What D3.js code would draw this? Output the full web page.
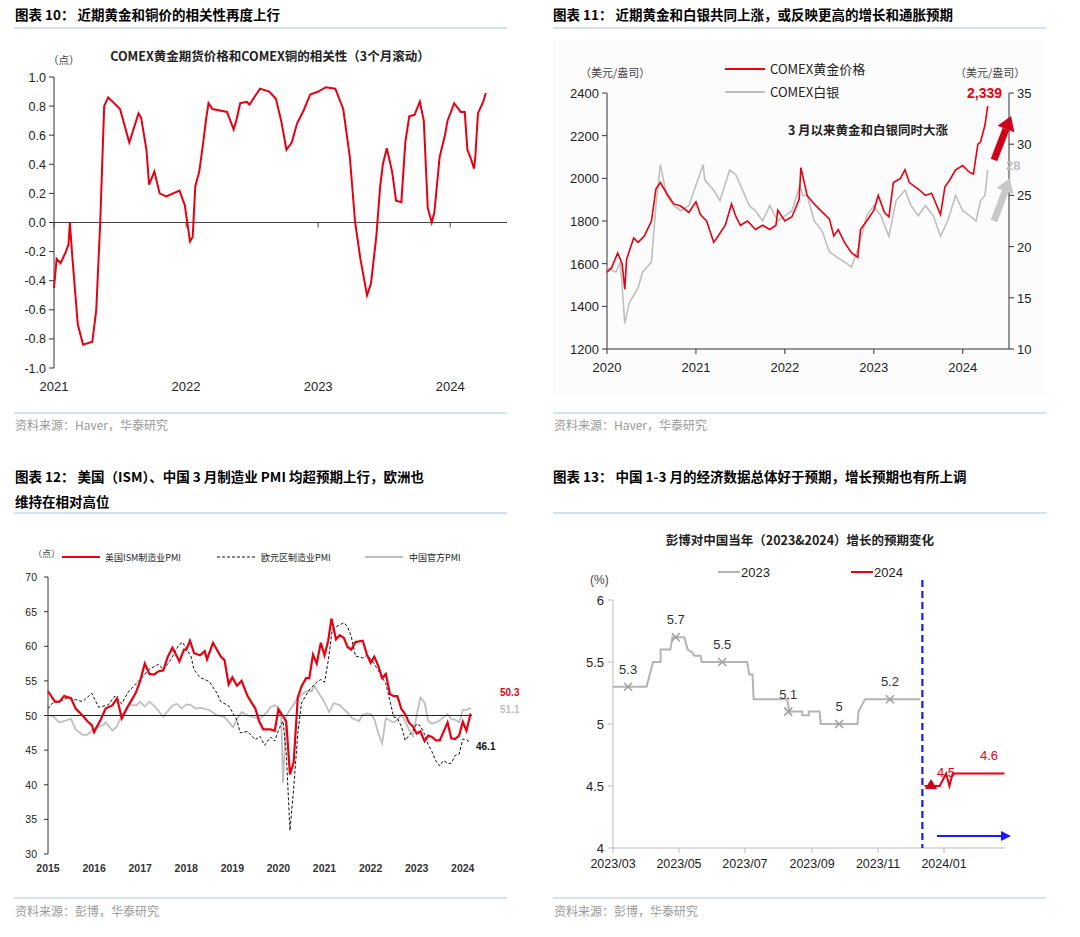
<!DOCTYPE html>
<html><head><meta charset="utf-8">
<script src="https://cdn.jsdelivr.net/npm/d3@7/dist/d3.min.js"></script>
<style>body{margin:0;background:#fff}svg{font-family:Arial,"Liberation Sans","Noto Sans CJK SC",sans-serif}</style>
</head><body><svg id="c" width="1080" height="937"></svg>
<script>
// ---------- DATA ----------
const corrSeries=[[2021.0,-0.45],[2021.02,-0.25],[2021.05,-0.28],[2021.09,-0.2],[2021.11,-0.15],[2021.12,0.0],[2021.14,-0.25],[2021.18,-0.7],[2021.22,-0.84],[2021.29,-0.82],[2021.32,-0.6],[2021.35,0.0],[2021.38,0.8],[2021.41,0.86],[2021.5,0.78],[2021.57,0.55],[2021.64,0.75],[2021.66,0.72],[2021.7,0.5],[2021.72,0.26],[2021.76,0.35],[2021.8,0.2],[2021.85,0.18],[2021.95,0.22],[2021.99,0.12],[2022.03,-0.13],[2022.05,-0.1],[2022.07,0.25],[2022.1,0.35],[2022.13,0.55],[2022.15,0.7],[2022.17,0.82],[2022.2,0.78],[2022.31,0.76],[2022.36,0.64],[2022.38,0.7],[2022.41,0.82],[2022.46,0.83],[2022.48,0.81],[2022.56,0.92],[2022.63,0.9],[2022.68,0.85],[2022.72,0.7],[2022.76,0.5],[2022.8,0.55],[2022.84,0.68],[2022.89,0.77],[2022.94,0.88],[2023.0,0.9],[2023.06,0.93],[2023.13,0.92],[2023.19,0.78],[2023.24,0.45],[2023.28,0.0],[2023.32,-0.25],[2023.37,-0.5],[2023.4,-0.42],[2023.44,-0.1],[2023.47,0.25],[2023.49,0.4],[2023.52,0.51],[2023.56,0.35],[2023.59,0.15],[2023.63,0.14],[2023.66,0.55],[2023.69,0.73],[2023.73,0.74],[2023.77,0.83],[2023.8,0.7],[2023.83,0.1],[2023.86,0.0],[2023.88,0.07],[2023.92,0.45],[2023.96,0.6],[2023.98,0.7],[2024.03,0.82],[2024.08,0.76],[2024.11,0.76],[2024.13,0.5],[2024.16,0.43],[2024.18,0.37],[2024.19,0.45],[2024.21,0.75],[2024.25,0.83],[2024.27,0.89]];
const corrTicksY=[1.0,0.8,0.6,0.4,0.2,0.0,-0.2,-0.4,-0.6,-0.8,-1.0];
const years1=[2021,2022,2023,2024];

const goldSeries=[[2020.0,1560],[2020.05,1580],[2020.12,1650],[2020.17,1600],[2020.2,1480],[2020.22,1620],[2020.3,1720],[2020.35,1700],[2020.42,1730],[2020.5,1800],[2020.55,1950],[2020.6,1980],[2020.67,1930],[2020.75,1880],[2020.83,1870],[2020.92,1840],[2021.0,1890],[2021.05,1830],[2021.12,1800],[2021.2,1700],[2021.25,1730],[2021.33,1780],[2021.4,1880],[2021.45,1820],[2021.5,1780],[2021.58,1800],[2021.67,1760],[2021.75,1780],[2021.83,1760],[2021.9,1780],[2021.92,1850],[2022.0,1800],[2022.08,1820],[2022.16,1900],[2022.18,2050],[2022.25,1920],[2022.33,1880],[2022.4,1850],[2022.5,1810],[2022.55,1730],[2022.6,1760],[2022.67,1700],[2022.75,1650],[2022.82,1630],[2022.85,1760],[2022.92,1800],[2023.0,1850],[2023.05,1920],[2023.12,1840],[2023.17,1820],[2023.22,1980],[2023.3,2000],[2023.35,2040],[2023.4,1980],[2023.5,1950],[2023.58,1920],[2023.65,1930],[2023.7,1880],[2023.75,1830],[2023.8,1960],[2023.85,1990],[2023.92,2040],[2024.0,2060],[2024.07,2030],[2024.12,2020],[2024.17,2160],[2024.2,2170],[2024.25,2250],[2024.28,2339]];
const silverSeries=[[2020.0,18],[2020.1,17.5],[2020.15,18.5],[2020.2,12.5],[2020.25,14.5],[2020.35,16],[2020.4,17.5],[2020.5,18.5],[2020.55,24],[2020.6,28],[2020.67,25],[2020.75,24],[2020.83,23.5],[2020.92,24],[2021.0,26],[2021.08,28],[2021.1,26.5],[2021.2,25.5],[2021.27,24.5],[2021.38,27.5],[2021.45,27],[2021.5,26],[2021.6,24],[2021.67,23.5],[2021.75,22.5],[2021.83,24],[2021.92,22.5],[2022.0,23],[2022.08,23.5],[2022.17,26],[2022.2,25],[2022.25,25],[2022.33,22.5],[2022.42,21.5],[2022.5,19.5],[2022.58,19],[2022.67,18.5],[2022.75,18],[2022.83,20],[2022.92,23],[2023.0,24],[2023.08,23],[2023.17,21],[2023.25,24.5],[2023.35,25.5],[2023.42,24],[2023.5,23],[2023.58,24],[2023.67,23],[2023.75,21],[2023.83,22.5],[2023.92,25],[2024.0,23.5],[2024.08,23],[2024.15,22.5],[2024.2,24.5],[2024.25,25],[2024.28,27.5]];
const goldTicks=[1200,1400,1600,1800,2000,2200,2400];
const silverTicks=[10,15,20,25,30,35];
const years2=[2020,2021,2022,2023,2024];

const ismSeries=[[2015.0,53.5],[2015.15,52],[2015.25,52],[2015.35,52.8],[2015.5,52.5],[2015.6,51],[2015.75,50],[2015.85,49.2],[2015.95,48.6],[2016.0,47.6],[2016.15,49.5],[2016.25,51],[2016.4,51.5],[2016.5,52.5],[2016.6,49.6],[2016.75,51.5],[2016.9,53.2],[2017.0,55],[2017.1,57.5],[2017.2,56],[2017.3,55.9],[2017.4,56.4],[2017.5,56.5],[2017.6,58.5],[2017.7,59.8],[2017.8,58.5],[2017.85,57.8],[2017.95,59.5],[2018.0,59.5],[2018.08,60.8],[2018.17,59],[2018.3,58.7],[2018.4,59.3],[2018.45,58.1],[2018.58,60.5],[2018.75,58.5],[2018.83,58],[2018.92,54.5],[2019.0,55.5],[2019.1,54.3],[2019.2,55],[2019.33,52.8],[2019.5,51],[2019.58,49.2],[2019.67,48],[2019.83,48],[2019.92,47.8],[2020.0,50.9],[2020.08,50.1],[2020.17,49.1],[2020.25,41.5],[2020.33,43.2],[2020.42,52.6],[2020.5,54.2],[2020.6,55.4],[2020.67,55.4],[2020.75,58.8],[2020.83,57.5],[2020.92,60.5],[2021.0,58.7],[2021.08,60.8],[2021.15,64],[2021.25,61],[2021.33,61.6],[2021.42,61.2],[2021.5,59.9],[2021.58,59.5],[2021.67,60.6],[2021.83,60.8],[2021.92,58.8],[2022.0,57.6],[2022.08,58.5],[2022.17,57.1],[2022.25,55.4],[2022.33,56],[2022.42,53.1],[2022.5,52.8],[2022.58,52.8],[2022.67,50.9],[2022.75,50.2],[2022.83,49],[2022.92,48.4],[2023.0,47.4],[2023.08,47.7],[2023.17,46.3],[2023.25,47.1],[2023.33,46.9],[2023.42,46.4],[2023.5,46.4],[2023.58,47.6],[2023.67,49],[2023.75,46.7],[2023.83,46.6],[2023.92,47.1],[2024.0,49.1],[2024.08,47.8],[2024.17,50.3]];
const euroSeries=[[2015.0,51],[2015.1,51.8],[2015.25,52],[2015.4,52.5],[2015.6,52.3],[2015.75,52],[2015.95,53.2],[2016.1,51.2],[2016.3,51.5],[2016.45,52.8],[2016.6,51.7],[2016.75,53.5],[2017.0,55.2],[2017.2,56.7],[2017.4,57.4],[2017.5,56.6],[2017.67,58.1],[2017.83,60.1],[2017.92,60.6],[2018.0,59.6],[2018.1,58.6],[2018.17,56.6],[2018.3,55.5],[2018.5,54.9],[2018.67,53.2],[2018.75,52],[2018.92,51.4],[2019.0,50.5],[2019.1,49.3],[2019.17,47.5],[2019.33,47.7],[2019.5,46.5],[2019.6,47],[2019.7,45.7],[2019.83,46.9],[2019.92,46.3],[2020.0,47.9],[2020.1,49.2],[2020.17,44.5],[2020.25,33.4],[2020.33,39.4],[2020.42,47.4],[2020.5,51.8],[2020.67,53.7],[2020.83,54.8],[2020.92,55.2],[2021.0,54.8],[2021.08,57.9],[2021.17,62.5],[2021.33,63.1],[2021.42,63.4],[2021.5,62.8],[2021.58,61.4],[2021.67,58.6],[2021.83,58.3],[2021.92,58.7],[2022.0,58.2],[2022.17,56.5],[2022.25,55.5],[2022.33,54.6],[2022.42,52.1],[2022.5,49.8],[2022.58,49.6],[2022.67,48.4],[2022.75,46.4],[2022.83,47.1],[2022.92,47.8],[2023.0,48.8],[2023.08,48.5],[2023.17,47.3],[2023.25,45.8],[2023.33,44.8],[2023.42,43.4],[2023.5,42.7],[2023.58,43.5],[2023.67,43.1],[2023.75,43.1],[2023.83,44.2],[2023.92,44.4],[2024.0,46.6],[2024.08,46.5],[2024.17,46.1]];
const chinaSeries=[[2015.0,50],[2015.1,49.9],[2015.25,49],[2015.35,49.2],[2015.5,49.5],[2015.6,48],[2015.75,47.2],[2015.85,47.2],[2016.0,48.1],[2016.1,48.4],[2016.2,48.6],[2016.25,49],[2016.33,48.4],[2016.4,47.8],[2016.5,48.5],[2016.6,50],[2016.75,51.5],[2016.92,51.5],[2017.0,52],[2017.1,51.3],[2017.2,52.0],[2017.33,51.2],[2017.5,49.8],[2017.58,50.5],[2017.7,51.4],[2017.8,51.7],[2017.9,51],[2018.0,51.6],[2018.1,51.5],[2018.2,51],[2018.33,51.1],[2018.5,50.8],[2018.67,50],[2018.83,49.8],[2019.02,48.3],[2019.1,49.5],[2019.2,50.5],[2019.33,50],[2019.5,49.7],[2019.6,49.5],[2019.75,50.5],[2019.83,51.2],[2019.92,51.5],[2020.0,51],[2020.06,49.5],[2020.1,40.3],[2020.17,50],[2020.25,50.8],[2020.42,52.5],[2020.5,53],[2020.6,53.5],[2020.72,53.5],[2020.78,54.3],[2020.85,53.5],[2021.0,51.9],[2021.1,50.5],[2021.2,51.8],[2021.33,51.5],[2021.42,50.9],[2021.5,50.4],[2021.6,49.6],[2021.75,49.2],[2021.83,50.1],[2021.92,50.3],[2022.0,50.2],[2022.08,49.5],[2022.17,47.4],[2022.25,46],[2022.33,49.6],[2022.5,49],[2022.58,49.4],[2022.67,50.1],[2022.75,49.2],[2022.83,48],[2022.92,47],[2023.0,50.1],[2023.08,52.6],[2023.17,51.9],[2023.25,49.2],[2023.33,48.8],[2023.42,49],[2023.5,49.3],[2023.58,49.7],[2023.67,50.2],[2023.75,49.5],[2023.83,49.4],[2023.92,49],[2024.0,50.8],[2024.08,50.8],[2024.17,51.1]];
const pmiTicks=[30,35,40,45,50,55,60,65,70];
const years3=[2015,2016,2017,2018,2019,2020,2021,2022,2023,2024];

const f2023Series=[["2023-03-01",5.3],["2023-04-01",5.3],["2023-04-04",5.4],["2023-04-07",5.5],["2023-04-14",5.5],["2023-04-14",5.6],["2023-04-23",5.6],["2023-04-25",5.7],["2023-05-06",5.7],["2023-05-09",5.6],["2023-05-13",5.58],["2023-05-15",5.55],["2023-05-21",5.55],["2023-05-22",5.5],["2023-07-03",5.5],["2023-07-05",5.4],["2023-07-08",5.4],["2023-07-09",5.2],["2023-08-09",5.2],["2023-08-11",5.1],["2023-08-23",5.1],["2023-08-23",5.07],["2023-08-29",5.07],["2023-08-29",5.1],["2023-09-08",5.1],["2023-09-09",5.0],["2023-10-13",5.0],["2023-10-14",5.1],["2023-10-17",5.15],["2023-10-20",5.2],["2023-12-10",5.2]];
const f2023Marks=[["2023-03-15",5.3,"5.3"],["2023-04-28",5.7,"5.7"],["2023-06-10",5.5,"5.5"],["2023-08-10",5.1,"5.1"],["2023-09-26",5.0,"5"],["2023-11-12",5.2,"5.2"]];
const f2024Series=[["2023-12-14",4.5],["2023-12-28",4.5],["2023-12-31",4.55],["2024-01-03",4.6],["2024-01-06",4.5],["2024-01-09",4.6],["2024-02-26",4.6]];
const gTicks=[4,4.5,5,5.5,6];
const monthTicks=["2023-03-01","2023-05-01","2023-07-01","2023-09-01","2023-11-01","2024-01-01"];

// ---------- DRAW ----------
const svg=d3.select("#c");
const RED="#e60012",GREY="#bfbfbf",HDR='"Noto Sans CJK SC",sans-serif';
function header(x,y,lines){lines.forEach((t,i)=>svg.append("text").attr("x",x).attr("y",y+i*25).attr("font-family",HDR).attr("font-weight","bold").attr("font-size",13.5).text(t));}
function rule(x1,x2,y){svg.append("line").attr("x1",x1).attr("x2",x2).attr("y1",y).attr("y2",y).attr("stroke","#a9c4de").attr("stroke-width",1.2);}
function source(x,y,t){svg.append("text").attr("x",x).attr("y",y).attr("font-family",HDR).attr("font-size",12).attr("fill","#9a9a9a").text(t);}
function txt(x,y,t,o={}){return svg.append("text").attr("x",x).attr("y",y).attr("font-size",o.size||12).attr("fill",o.fill||"#222").attr("font-weight",o.bold?"bold":"normal").attr("text-anchor",o.anchor||"start").attr("font-family",o.cjk?HDR:null).text(t);}

// Panel 1
header(15,20,["图表 10：  近期黄金和铜价的相关性再度上行"]);rule(14,507,28);rule(14,507,413);source(15,430,"资料来源：Haver，华泰研究");
{const x=d3.scaleLinear().domain([2021,2024.43]).range([54,507]);const y=d3.scaleLinear().domain([-1,1]).range([368,77]);
const g=svg.append("g");
g.append("line").attr("x1",54).attr("x2",54).attr("y1",77).attr("y2",368).attr("stroke","#333");
corrTicksY.forEach(v=>{g.append("line").attr("x1",49).attr("x2",54).attr("y1",y(v)).attr("y2",y(v)).attr("stroke","#333");txt(46,y(v)+4.5,v.toFixed(1),{anchor:"end",size:12.5});});
g.append("line").attr("x1",54).attr("x2",507).attr("y1",y(0)).attr("y2",y(0)).attr("stroke","#444").attr("stroke-width",1.2);
years1.forEach(t=>{g.append("line").attr("x1",x(t)).attr("x2",x(t)).attr("y1",y(0)).attr("y2",y(0)+5).attr("stroke","#444");txt(x(t),391,t,{anchor:"middle",size:13});});
g.append("path").datum(corrSeries).attr("fill","none").attr("stroke",RED).attr("stroke-width",2).attr("d",d3.line().x(d=>x(d[0])).y(d=>y(d[1])));
txt(270,61,"COMEX黄金期货价格和COMEX铜的相关性（3个月滚动）",{anchor:"middle",bold:true,size:12.5,cjk:true});
txt(48,64,"（点）",{size:10.5,cjk:true,fill:"#444"});}

// Panel 2
header(553,20,["图表 11：  近期黄金和白银共同上涨，或反映更高的增长和通胀预期"]);rule(553,1046,28);rule(553,1046,413);source(554,430,"资料来源：Haver，华泰研究");
{const x=d3.scaleLinear().domain([2020,2024.52]).range([607,1009]);const y=d3.scaleLinear().domain([1200,2400]).range([349,93]);const y2=d3.scaleLinear().domain([10,35]).range([349,93]);
const g=svg.append("g");
g.append("rect").attr("x",553).attr("y",40).attr("width",492).attr("height",355).attr("fill","#fcfcfc");
g.append("line").attr("x1",607).attr("x2",607).attr("y1",93).attr("y2",349).attr("stroke","#333");
g.append("line").attr("x1",1009).attr("x2",1009).attr("y1",93).attr("y2",349).attr("stroke","#333");
g.append("line").attr("x1",607).attr("x2",1009).attr("y1",349).attr("y2",349).attr("stroke","#333");
goldTicks.forEach(v=>{g.append("line").attr("x1",602).attr("x2",607).attr("y1",y(v)).attr("y2",y(v)).attr("stroke","#333");txt(599,y(v)+5,v,{anchor:"end",size:13});});
silverTicks.forEach(v=>{g.append("line").attr("x1",1009).attr("x2",1014).attr("y1",y2(v)).attr("y2",y2(v)).attr("stroke","#333");txt(1017,y2(v)+5,v,{size:13});});
years2.forEach(t=>{g.append("line").attr("x1",x(t)).attr("x2",x(t)).attr("y1",349).attr("y2",354).attr("stroke","#333");txt(x(t),372,t,{anchor:"middle",size:13});});
g.append("path").datum(silverSeries).attr("fill","none").attr("stroke",GREY).attr("stroke-width",1.6).attr("d",d3.line().x(d=>x(d[0])).y(d=>y2(d[1])));
g.append("path").datum(goldSeries).attr("fill","none").attr("stroke",RED).attr("stroke-width",1.6).attr("d",d3.line().x(d=>x(d[0])).y(d=>y(d[1])));
g.append("line").attr("x1",725).attr("x2",765).attr("y1",69).attr("y2",69).attr("stroke",RED).attr("stroke-width",2);
g.append("line").attr("x1",725).attr("x2",765).attr("y1",92).attr("y2",92).attr("stroke",GREY).attr("stroke-width",2);
txt(770,74,"COMEX黄金价格",{size:13,cjk:true});txt(770,97,"COMEX白银",{size:13,cjk:true});
txt(580,77,"（美元/盎司）",{size:11,cjk:true,fill:"#444"});txt(955,77,"（美元/盎司）",{size:11,cjk:true,fill:"#444"});
txt(1002,98,"2,339",{anchor:"end",bold:true,size:14,fill:RED});
txt(1006,170,"28",{size:13,bold:true,fill:GREY});
txt(868,135,"3 月以来黄金和白银同时大涨",{anchor:"middle",bold:true,size:12.5,cjk:true});
function arrow(x1,y1,x2,y2,c){const a=Math.atan2(y2-y1,x2-x1),L=14,W=9;const bx=x2-L*Math.cos(a),by=y2-L*Math.sin(a);
g.append("line").attr("x1",x1).attr("y1",y1).attr("x2",bx).attr("y2",by).attr("stroke",c).attr("stroke-width",7);
g.append("path").attr("fill",c).attr("d",`M${x2},${y2}L${bx+W*Math.sin(a)},${by-W*Math.cos(a)}L${bx-W*Math.sin(a)},${by+W*Math.cos(a)}Z`);}
arrow(994,160,1011,116,"#d0001a");arrow(994,221,1010,178,"#c8c8c8");}

// Panel 3
header(15,482,["图表 12：  美国（ISM）、中国 3 月制造业 PMI 均超预期上行，欧洲也","维持在相对高位"]);rule(14,507,513);rule(14,507,898);source(15,916,"资料来源：彭博，华泰研究");
{const x=d3.scaleLinear().domain([2015,2024.2]).range([48,472]);const y=d3.scaleLinear().domain([30,70]).range([854,577]);
const g=svg.append("g");
g.append("line").attr("x1",48).attr("x2",48).attr("y1",577).attr("y2",854).attr("stroke","#333");
pmiTicks.forEach(v=>{g.append("line").attr("x1",44).attr("x2",48).attr("y1",y(v)).attr("y2",y(v)).attr("stroke","#333");txt(37,y(v)+4,v,{anchor:"end",size:10.5});});
years3.forEach(t=>txt(x(t),872,t,{anchor:"middle",size:10.5,bold:true,fill:"#333"}));
g.append("path").datum(chinaSeries).attr("fill","none").attr("stroke",GREY).attr("stroke-width",1.8).attr("d",d3.line().x(d=>x(d[0])).y(d=>y(d[1])));
g.append("line").attr("x1",48).attr("x2",472).attr("y1",y(50)).attr("y2",y(50)).attr("stroke","#222").attr("stroke-width",1);
g.append("path").datum(euroSeries).attr("fill","none").attr("stroke","#111").attr("stroke-width",1).attr("stroke-dasharray","3,2").attr("d",d3.line().x(d=>x(d[0])).y(d=>y(d[1])));
g.append("path").datum(ismSeries).attr("fill","none").attr("stroke",RED).attr("stroke-width",2.2).attr("d",d3.line().x(d=>x(d[0])).y(d=>y(d[1])));
txt(33,557,"（点）",{size:9,cjk:true,fill:"#444"});
g.append("line").attr("x1",62).attr("x2",100).attr("y1",557).attr("y2",557).attr("stroke",RED).attr("stroke-width",2.2);
g.append("line").attr("x1",217).attr("x2",256).attr("y1",557).attr("y2",557).attr("stroke","#111").attr("stroke-width",1).attr("stroke-dasharray","3,2");
g.append("line").attr("x1",365).attr("x2",403).attr("y1",557).attr("y2",557).attr("stroke",GREY).attr("stroke-width",2);
txt(105,561,"美国ISM制造业PMI",{size:9,cjk:true});txt(261,561,"欧元区制造业PMI",{size:9,cjk:true});txt(409,561,"中国官方PMI",{size:9,cjk:true});
txt(500,696,"50.3",{size:10,bold:true,fill:RED});txt(500,713,"51.1",{size:10,bold:true,fill:GREY});txt(476,750,"46.1",{size:10,bold:true,fill:"#111"});}

// Panel 4
header(553,482,["图表 13：  中国 1-3 月的经济数据总体好于预期，增长预期也有所上调"]);rule(553,1046,513);rule(553,1046,898);source(554,916,"资料来源：彭博，华泰研究");
{const p=d3.timeParse("%Y-%m-%d");const x=d3.scaleTime().domain([p("2023-03-01"),p("2024-01-01")]).range([613,944]);const y=d3.scaleLinear().domain([4,6]).range([848,600]);
const g=svg.append("g");
g.append("line").attr("x1",613).attr("x2",613).attr("y1",600).attr("y2",848).attr("stroke","#bbb");
g.append("line").attr("x1",613).attr("x2",1005).attr("y1",848).attr("y2",848).attr("stroke","#bbb");
gTicks.forEach(v=>{g.append("line").attr("x1",608).attr("x2",613).attr("y1",y(v)).attr("y2",y(v)).attr("stroke","#bbb");txt(604,y(v)+5,v,{anchor:"end",size:13});});
monthTicks.forEach(m=>{const xx=x(p(m));g.append("line").attr("x1",xx).attr("x2",xx).attr("y1",848).attr("y2",853).attr("stroke","#bbb");txt(xx,868,m.slice(0,7).replace("-","/"),{anchor:"middle",size:12.5});});
g.append("path").datum(f2023Series).attr("fill","none").attr("stroke","#b4b4b4").attr("stroke-width",2).attr("d",d3.line().x(d=>x(p(d[0]))).y(d=>y(d[1])));
f2023Marks.forEach(d=>{const cx=x(p(d[0])),cy=y(d[1]);g.append("path").attr("d",`M${cx-4},${cy-4}L${cx+4},${cy+4}M${cx-4},${cy+4}L${cx+4},${cy-4}`).attr("stroke","#a0a0a0").attr("stroke-width",1.6);txt(cx,cy-13,d[2],{anchor:"middle",size:13,fill:"#333"});});
g.append("path").datum(f2024Series).attr("fill","none").attr("stroke",RED).attr("stroke-width",2).attr("d",d3.line().x(d=>x(p(d[0]))).y(d=>y(d[1])));
{const cx=x(p("2023-12-20")),cy=y(4.5);g.append("path").attr("d",`M${cx},${cy-7}L${cx+6},${cy+3}L${cx-6},${cy+3}Z`).attr("fill","#d0001a");}
txt(937,777,"4.5",{size:13,fill:RED});txt(980,760,"4.6",{size:13,fill:RED});
const vx=x(p("2023-12-12"));g.append("line").attr("x1",vx).attr("x2",vx).attr("y1",580).attr("y2",848).attr("stroke","#1a1aff").attr("stroke-width",2.2).attr("stroke-dasharray","7,4");
g.append("line").attr("x1",937).attr("x2",1002).attr("y1",836).attr("y2",836).attr("stroke","#1a1aff").attr("stroke-width",2.2);
g.append("path").attr("d","M1011,836L1001,831L1001,841Z").attr("fill","#1a1aff");
txt(800,545,"彭博对中国当年（2023&2024）增长的预期变化",{anchor:"middle",bold:true,size:12.5,cjk:true});
txt(590,584,"(%)",{size:12,fill:"#444"});
g.append("line").attr("x1",718).attr("x2",740).attr("y1",572).attr("y2",572).attr("stroke","#b4b4b4").attr("stroke-width",2);txt(741,577,"2023",{size:13});
g.append("line").attr("x1",851).attr("x2",873).attr("y1",572).attr("y2",572).attr("stroke",RED).attr("stroke-width",2);txt(874,577,"2024",{size:13});}
</script></body></html>
